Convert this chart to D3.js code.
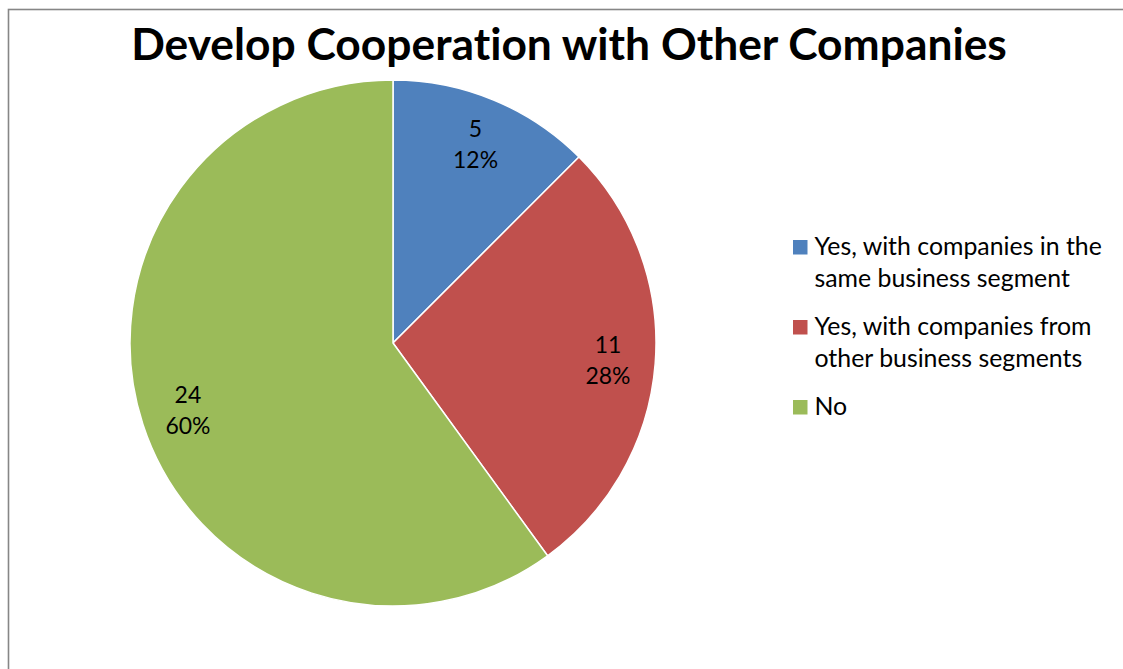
<!DOCTYPE html>
<html>
<head>
<meta charset="utf-8">
<script src="https://cdn.jsdelivr.net/npm/d3@7"></script>
<style>
  html, body { margin: 0; padding: 0; background: #fff; }
  svg { display: block; font-family: Lato, "Open Sans", sans-serif; font-variant-ligatures: none; font-feature-settings: "liga" 0, "clig" 0; }
</style>
</head>
<body>
<svg id="chart" width="1123" height="669"></svg>
<script>
// Survey answers: does the company develop cooperation with other companies?
const chartTitle = "Develop Cooperation with Other Companies";
const categories = [
  "Yes, with companies in the same business segment",
  "Yes, with companies from other business segments",
  "No"
];
const legendLines = [
  ["Yes, with companies in the", "same business segment"],
  ["Yes, with companies from", "other business segments"],
  ["No"]
];
const counts = [5, 11, 24];
const percentLabels = ["12%", "28%", "60%"];
const sliceColors = ["#4F81BD", "#C0504D", "#9BBB59"];

const svg = d3.select("#chart");
const W = 1123, H = 669;

// Chart area frame (runs off the right and bottom of the view)
svg.append("rect")
  .attr("x", 8.5).attr("y", 9.5)
  .attr("width", W + 50).attr("height", H + 50)
  .attr("fill", "#fff")
  .attr("stroke", "#868686")
  .attr("stroke-width", 1.6);

// Helper: pick a font size so a string spans a given width
function fitSize(text, weight, targetWidth, guess) {
  const t = svg.append("text")
    .attr("font-size", guess).attr("font-weight", weight).text(text);
  const w = t.node().getComputedTextLength();
  t.remove();
  return guess * targetWidth / w;
}

// Title
const titleSize = fitSize(chartTitle, "bold", 876, 40);
svg.append("text")
  .attr("x", 569).attr("y", 60)
  .attr("text-anchor", "middle")
  .attr("font-weight", "bold")
  .attr("font-size", titleSize)
  .attr("fill", "#000")
  .text(chartTitle);

// Pie
const cx = 393, cy = 343, radius = 263;
const color = d3.scaleOrdinal().domain(categories).range(sliceColors);
const pie = d3.pie().sort(null).value(d => d.value);
const data = categories.map((c, i) => ({ name: c, value: counts[i], pct: percentLabels[i] }));
const arcs = pie(data);
const arc = d3.arc().innerRadius(0).outerRadius(radius);
const labelArc = d3.arc().innerRadius(radius * 0.82).outerRadius(radius * 0.82);

const g = svg.append("g").attr("transform", `translate(${cx},${cy})`);
g.selectAll("path.slice")
  .data(arcs)
  .join("path")
  .attr("class", "slice")
  .attr("d", arc)
  .attr("fill", d => color(d.data.name))
  .attr("stroke", "#fff")
  .attr("stroke-width", 1.5)
  .attr("stroke-linejoin", "round");

// Data labels: count and share
const labelSize = fitSize("12%", "normal", 45, 24);
const labels = g.selectAll("text.dlabel")
  .data(arcs)
  .join("text")
  .attr("class", "dlabel")
  .attr("text-anchor", "middle")
  .attr("font-size", labelSize)
  .attr("fill", "#000")
  .attr("transform", d => {
    const [x, y] = labelArc.centroid(d);
    return `translate(${x},${y})`;
  });
labels.append("tspan").attr("x", 0).attr("y", -7).text(d => d.data.value);
labels.append("tspan").attr("x", 0).attr("y", 24).text(d => d.data.pct);

// Legend
const legendSize = fitSize(legendLines[0][0], "normal", 287.5, 22);
const legend = svg.append("g").attr("transform", "translate(793,255)");
const items = legend.selectAll("g.item")
  .data(categories)
  .join("g")
  .attr("class", "item")
  .attr("transform", (d, i) => `translate(0,${i * 80})`);
items.append("rect")
  .attr("x", 0).attr("y", -15)
  .attr("width", 14.5).attr("height", 14.5)
  .attr("fill", d => color(d));
items.each(function (d, i) {
  const t = d3.select(this).append("text")
    .attr("font-size", legendSize)
    .attr("fill", "#000");
  legendLines[i].forEach((line, j) => {
    t.append("tspan").attr("x", 21.5).attr("y", j * 32.3).text(line);
  });
});
</script>
</body>
</html>
